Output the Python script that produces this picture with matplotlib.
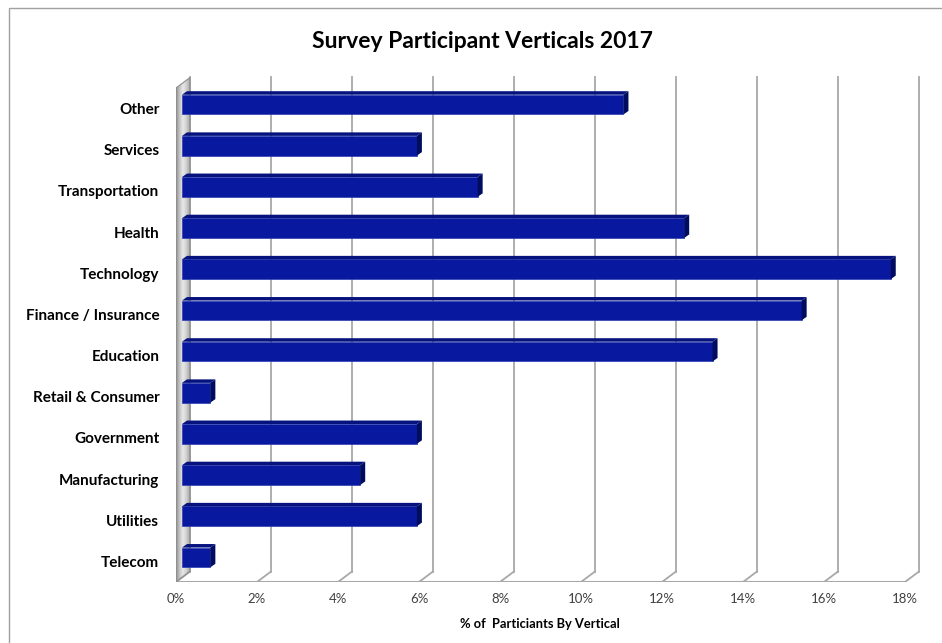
import numpy as np
import matplotlib
matplotlib.use("Agg")
import matplotlib.pyplot as plt
from matplotlib.patches import Polygon, Rectangle
from matplotlib.colors import LinearSegmentedColormap

plt.rcParams['font.family'] = ['Lato', 'DejaVu Sans']

# data, top to bottom as in the chart
categories = ['Other', 'Services', 'Transportation', 'Health', 'Technology',
              'Finance / Insurance', 'Education', 'Retail & Consumer',
              'Government', 'Manufacturing', 'Utilities', 'Telecom']
values = [10.9, 5.8, 7.3, 12.4, 17.5, 15.3, 13.1, 0.7, 5.8, 4.4, 5.8, 0.7]
xticks = [0, 2, 4, 6, 8, 10, 12, 14, 16, 18]

W, H = 942, 643
fig = plt.figure(figsize=(W / 100, H / 100), dpi=100)

# front plane of the 3d box: 0% at x=176px, 18% at x=905px, floor at y=582px
x0, x1 = 176, 905
yb, yt = 582, 88
px_x = 18 / (x1 - x0)
px_y = 12 / (yb - yt)
extra_x, extra_y = 18, 14
ax = fig.add_axes([x0 / W, 1 - yb / H, (x1 - x0 + extra_x) / W, (yb - yt + extra_y) / H])
ax.set_xlim(0, 18 + extra_x * px_x)
ax.set_ylim(-0.5, 11.5 + extra_y * px_y)
for s in ax.spines.values():
    s.set_visible(False)

# depth of back wall, in pixels
dx, dy = 14 * px_x, 10.5 * px_y
grid_c = '#A8A8A8'

# back wall gradient on the left
wall = Polygon([(0, -0.5), (dx, -0.5 + dy), (dx, 11.5 + dy), (0, 11.5)], closed=True,
               facecolor='none', edgecolor='#8C8C8C', lw=0.8, zorder=2)
ax.add_patch(wall)
cmap = LinearSegmentedColormap.from_list('wall', ['#8E8E8E', '#C4C4C4', '#E8E8E8', '#D0D0D0', '#A8A8A8'])
im = ax.imshow(np.linspace(0, 1, 64).reshape(1, -1), cmap=cmap, aspect='auto',
               extent=(0, dx, -0.5, 11.5 + dy), zorder=1, interpolation='bilinear')
im.set_clip_path(wall)

# gridlines on the back plane and floor
for k in xticks:
    ax.plot([k + dx, k + dx], [-0.5 + dy, 11.5 + dy], color=grid_c, lw=1.3, zorder=1)
    ax.plot([k, k + dx], [-0.5, -0.5 + dy], color=grid_c, lw=1.3, zorder=1)
ax.plot([0, 18], [-0.5, -0.5], color=grid_c, lw=1.5, zorder=1)

# 3d bars
ypos = np.arange(len(categories))[::-1]
h = 0.24
fx, fy = 6 * px_x, 4 * px_y      # front face offset
bx, by = 11 * px_x, 7.5 * px_y   # back face offset
ax.barh(ypos + fy, values, left=fx, height=2 * h, color='#0819A0',
        edgecolor='#2A3DB0', lw=0.5, zorder=3)
for y, v in zip(ypos, values):
    top = Polygon([(fx, y + fy + h), (v + fx, y + fy + h), (v + bx, y + by + h), (bx, y + by + h)],
                  closed=True, facecolor='#06137E', edgecolor='none', zorder=3)
    side = Polygon([(v + fx, y + fy - h), (v + bx, y + by - h), (v + bx, y + by + h), (v + fx, y + fy + h)],
                   closed=True, facecolor='#000C5E', edgecolor='none', zorder=3)
    ax.add_patch(top)
    ax.add_patch(side)

ax.set_xticks(xticks)
ax.set_xticklabels([f'{k}%' for k in xticks], fontsize=9.5, color='#404040')
ax.set_yticks(ypos)
ax.set_yticklabels(categories, fontsize=11, fontweight='bold', color='black')
ax.tick_params(axis='x', length=0, pad=8)
ax.tick_params(axis='y', length=0, pad=12)

fig.text(482 / W, 1 - 42 / H, 'Survey Participant Verticals 2017', ha='center', va='center',
         fontsize=16.5, fontweight='bold', color='black')
fig.text(540 / W, 1 - 624 / H, '% of  Particiants By Vertical', ha='center', va='center',
         fontsize=9.3, fontweight='bold', color='black')

# chart border
fig.add_artist(Rectangle((9 / W, -0.02), 1.0, 1 - 8 / H + 0.02, transform=fig.transFigure,
                         fill=False, edgecolor='#A0A0A0', lw=1))

fig.savefig('out.png', dpi=100)
